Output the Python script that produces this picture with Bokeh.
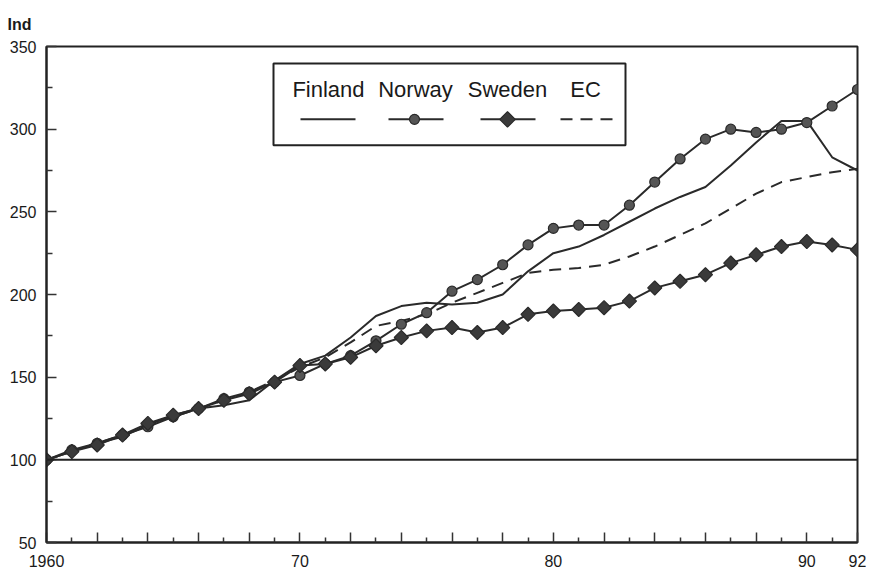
import numpy as np
from bokeh.plotting import figure
from bokeh.models import (Range1d, FixedTicker, Span, Label, BoxAnnotation, ColumnDataSource)
from bokeh.embed import file_html
from bokeh.resources import INLINE

# ---------------- data ----------------
years = list(range(1960, 1993))

finland = [100, 105, 110, 114, 121, 127, 131, 133, 136, 148,
           158, 163, 174, 187, 193, 195, 194, 195, 200, 214,
           225, 229, 236, 244, 252, 259, 265, 278, 292, 305,
           305, 283, 275]

norway = [100, 106, 110, 115, 120, 126, 131, 137, 141, 147,
          151, 158, 163, 172, 182, 189, 202, 209, 218, 230,
          240, 242, 242, 254, 268, 282, 294, 300, 298, 300,
          304, 314, 324]

sweden = [100, 105, 109, 115, 122, 127, 131, 136, 140, 147,
          157, 158, 162, 169, 174, 178, 180, 177, 180, 188,
          190, 191, 192, 196, 204, 208, 212, 219, 224, 229,
          232, 230, 227]

ec = [100, 105, 110, 115, 121, 126, 131, 136, 141, 148,
      156, 162, 171, 181, 184, 188, 195, 201, 207, 213,
      215, 216, 218, 223, 229, 236, 243, 252, 261, 268,
      271, 274, 276]

series_names = ["Finland", "Norway", "Sweden", "EC"]
x_tick_labels = {1960: "1960", 1970: "70", 1980: "80", 1990: "90", 1992: "92"}
y_ticks = [50, 100, 150, 200, 250, 300, 350]
base_value = 100

# ---------------- figure ----------------
X0, X1, Y0, Y1 = 1960, 1992, 50, 350
W, H = 866, 574
FL, FR, FT, FB = 46, 9, 45, 32  # borders around the frame

p = figure(width=W, height=H, x_range=Range1d(X0, X1), y_range=Range1d(Y0, Y1),
           output_backend="svg", toolbar_location=None,
           min_border_left=FL, min_border_right=FR, min_border_top=FT, min_border_bottom=FB)
p.background_fill_color = "white"
p.border_fill_color = "white"
p.xgrid.visible = False
p.ygrid.visible = False
p.outline_line_color = "#222222"
p.outline_line_width = 2

font = "Liberation Sans"
ink = "#2a2a2a"

# "Ind" title at top-left
p.title.text = "Ind"
p.title.align = "left"
p.title.offset = -39
p.title.standoff = 27
p.title.text_line_height = 0.7
p.title.text_font = font
p.title.text_font_size = "16px"
p.title.text_font_style = "bold"
p.title.text_color = "#1a1a1a"

# x axis
even = [y for y in years if y % 2 == 0]
odd = [y for y in years if y % 2 == 1]
p.xaxis.ticker = FixedTicker(ticks=even, minor_ticks=odd)
p.xaxis.major_label_overrides = {y: x_tick_labels.get(y, "") for y in even}
# y axis
p.yaxis.ticker = FixedTicker(ticks=y_ticks, minor_ticks=[v + 25 for v in y_ticks[:-1]])

for ax in (p.xaxis[0], p.yaxis[0]):
    ax.axis_line_color = "#222222"
    ax.axis_line_width = 2
    ax.major_tick_line_color = "#333333"
    ax.minor_tick_line_color = "#333333"
    ax.major_tick_line_width = 1.5
    ax.minor_tick_line_width = 1.5
    ax.major_tick_out = 0
    ax.minor_tick_out = 0
    ax.major_label_text_font = font
    ax.major_label_text_font_size = "16px"
    ax.major_label_text_color = "#1a1a1a"
p.xaxis.major_tick_in = 10
p.xaxis.minor_tick_in = 5
p.yaxis.major_tick_in = 10
p.yaxis.minor_tick_in = 6
p.xaxis.major_label_standoff = 12
p.yaxis.major_label_standoff = 10

# reference line at 100
p.add_layout(Span(location=base_value, dimension="width", line_color="#222222", line_width=2))

# ---------------- series ----------------
src = ColumnDataSource(dict(x=years, fin=finland, nor=norway, swe=sweden, ec=ec))
p.line("x", "ec", source=src, line_color=ink, line_width=2, line_dash="12 8")
p.line("x", "fin", source=src, line_color=ink, line_width=2)
p.line("x", "nor", source=src, line_color=ink, line_width=2)
p.scatter("x", "nor", source=src, marker="circle", size=10,
          fill_color="#555555", line_color="#2a2a2a", line_width=1.2)
p.line("x", "swe", source=src, line_color=ink, line_width=2)
p.scatter("x", "swe", source=src, marker="square", angle=np.pi / 4, size=10,
          fill_color="#3a3a3a", line_color="#2a2a2a", line_width=1.2)

# ---------------- pixel -> data helpers (page px of the frame) ----------------
PL, PR, PT, PB = 46, 857, 45, 542
def dx(px):
    return X0 + (px - PL) * (X1 - X0) / (PR - PL)
def dy(py):
    return Y0 + (PB - py) * (Y1 - Y0) / (PB - PT)

# ---------------- custom legend ----------------
p.add_layout(BoxAnnotation(left=dx(273), right=dx(625), top=dy(62), bottom=dy(144),
                           fill_alpha=0, line_color="#222222", line_alpha=1, line_width=2))
label_cx = [328, 415, 507, 585]
for name, cx in zip(series_names, label_cx):
    p.add_layout(Label(x=dx(cx), y=dy(88), text=name, text_font=font, text_font_size="22px",
                       text_color="#1a1a1a", text_align="center", text_baseline="middle"))
ly = dy(118)
p.line([dx(300), dx(355)], [ly, ly], line_color=ink, line_width=2)
p.line([dx(388), dx(443)], [ly, ly], line_color=ink, line_width=2)
p.scatter([dx(414)], [ly], marker="circle", size=10, fill_color="#555555",
          line_color="#2a2a2a", line_width=1.2)
p.line([dx(480), dx(535)], [ly, ly], line_color=ink, line_width=2)
p.scatter([dx(507)], [ly], marker="square", angle=np.pi / 4, size=11, fill_color="#3a3a3a",
          line_color="#2a2a2a", line_width=1.2)
p.line([dx(560), dx(615)], [ly, ly], line_color=ink, line_width=2, line_dash="12 8")

open("out.html", "w").write(file_html(p, INLINE))
